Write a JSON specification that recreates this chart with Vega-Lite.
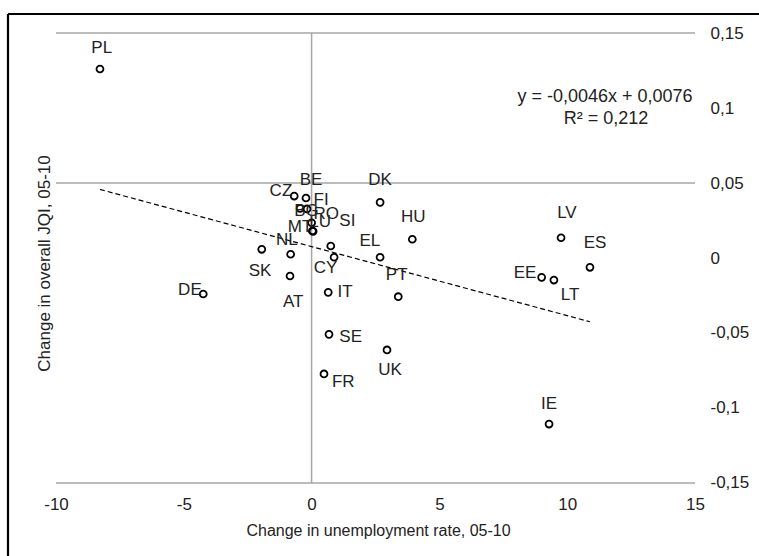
{
  "$schema": "https://vega.github.io/schema/vega-lite/v6.json",
  "autosize": {"type": "none"},
  "width": 751,
  "height": 542,
  "padding": {"left": 8, "top": 14, "right": 0, "bottom": 0},
  "background": "white",
  "config": {
    "view": {"stroke": "#000000", "strokeWidth": 2.2, "strokeDash": [751, 1293, 542, 0]},
    "font": "Liberation Sans",
    "axis": {"domain": false, "ticks": false, "grid": false, "labelFont": "Liberation Sans", "labelFontSize": 17, "labelColor": "#222222", "titleFont": "Liberation Sans", "titleFontSize": 16, "titleFontWeight": "normal", "titleColor": "#222222"}
  },
  "datasets": {
    "pts": [
      {"c": "PL", "x": -8.28, "y": 0.126, "lx": -8.21, "ly": 0.140},
      {"c": "DE", "x": -4.24, "y": -0.024, "lx": -4.76, "ly": -0.0213},
      {"c": "SK", "x": -1.95, "y": 0.0058, "lx": -2.02, "ly": -0.0085},
      {"c": "NL", "x": -0.82, "y": 0.0025, "lx": -0.97, "ly": 0.012},
      {"c": "AT", "x": -0.845, "y": -0.012, "lx": -0.72, "ly": -0.0291},
      {"c": "CZ", "x": -0.68, "y": 0.0413, "lx": -1.2, "ly": 0.0447},
      {"c": "BE", "x": -0.22, "y": 0.040, "lx": -0.02, "ly": 0.052},
      {"c": "MT", "x": -0.45, "y": 0.0331, "lx": -0.45, "ly": 0.0207},
      {"c": "BG", "x": -0.18, "y": 0.0327, "lx": -0.2, "ly": 0.0313},
      {"c": "FI", "x": 0.0, "y": 0.0235, "lx": 0.37, "ly": 0.0387},
      {"c": "LU", "x": 0.03, "y": 0.018, "lx": 0.33, "ly": 0.024},
      {"c": "RO", "x": 0.06, "y": 0.0178, "lx": 0.57, "ly": 0.0293},
      {"c": "SI", "x": 0.75, "y": 0.008, "lx": 1.4, "ly": 0.0247},
      {"c": "CY", "x": 0.88, "y": 0.0005, "lx": 0.55, "ly": -0.0065},
      {"c": "IT", "x": 0.65, "y": -0.0229, "lx": 1.31, "ly": -0.0225},
      {"c": "SE", "x": 0.68, "y": -0.0509, "lx": 1.53, "ly": -0.0525},
      {"c": "FR", "x": 0.485, "y": -0.0773, "lx": 1.24, "ly": -0.0825},
      {"c": "DK", "x": 2.68, "y": 0.0371, "lx": 2.68, "ly": 0.052},
      {"c": "HU", "x": 3.94, "y": 0.0125, "lx": 3.98, "ly": 0.0271},
      {"c": "EL", "x": 2.68, "y": 0.0005, "lx": 2.28, "ly": 0.0113},
      {"c": "PT", "x": 3.39, "y": -0.0258, "lx": 3.33, "ly": -0.0113},
      {"c": "UK", "x": 2.95, "y": -0.0613, "lx": 3.07, "ly": -0.0747},
      {"c": "LV", "x": 9.76, "y": 0.0135, "lx": 9.99, "ly": 0.030},
      {"c": "ES", "x": 10.89, "y": -0.0062, "lx": 11.09, "ly": 0.0098},
      {"c": "EE", "x": 9.0, "y": -0.0129, "lx": 8.35, "ly": -0.0098},
      {"c": "LT", "x": 9.48, "y": -0.0147, "lx": 10.11, "ly": -0.0247},
      {"c": "IE", "x": 9.29, "y": -0.1107, "lx": 9.29, "ly": -0.0973}
    ],
    "fit": [
      {"x": -8.28, "y": 0.0457},
      {"x": 10.89, "y": -0.0425}
    ],
    "hgrid": [
      {"x": -10, "x2": 15, "y": 0.15},
      {"x": -10, "x2": 15, "y": 0.05},
      {"x": -10, "x2": 15, "y": -0.15}
    ],
    "vgrid": [
      {"x": 0, "y": -0.15, "y2": 0.15}
    ],
    "eq": [
      {"ex": 11.48, "ey": 0.1073, "t": "y = -0,0046x + 0,0076"},
      {"ex": 11.52, "ey": 0.0927, "t": "R² = 0,212"}
    ]
  },
  "layer": [
    {
      "data": {"name": "hgrid"},
      "mark": {"type": "rule", "color": "#a6a6a6", "strokeWidth": 1.5},
      "encoding": {
        "x": {"field": "x", "type": "quantitative",
              "scale": {"domain": [-11.878, 17.504], "nice": false, "zero": false},
              "axis": {"orient": "bottom", "offset": -52, "labelPadding": 0, "labelBaseline": "middle", "values": [-10, -5, 0, 5, 10, 15], "labelExpr": "toString(datum.value)", "title": "Change in unemployment rate, 05-10", "titleX": 370, "titleY": 26, "titleBaseline": "middle", "titleAlign": "center", "labelFlush": false, "labelOverlap": false}},
        "x2": {"field": "x2"},
        "y": {"field": "y", "type": "quantitative",
              "scale": {"domain": [-0.198667, 0.162667], "nice": false, "zero": false},
              "axis": {"orient": "right", "offset": -49, "labelPadding": 0, "labelAlign": "left", "labelBaseline": "middle", "values": [-0.15, -0.1, -0.05, 0, 0.05, 0.1, 0.15], "labelExpr": "replace(toString(datum.value), '.', ',')", "title": "Change in overall JQI, 05-10", "titleFontSize": 17, "titleX": -666, "titleY": 249, "titleAngle": 270, "titleBaseline": "middle", "titleAlign": "center", "labelFlush": false, "labelOverlap": false}}
      }
    },
    {
      "data": {"name": "vgrid"},
      "mark": {"type": "rule", "color": "#a6a6a6", "strokeWidth": 1.5},
      "encoding": {
        "x": {"field": "x", "type": "quantitative", "scale": {"domain": [-11.878, 17.504], "nice": false, "zero": false}},
        "y": {"field": "y", "type": "quantitative", "scale": {"domain": [-0.198667, 0.162667], "nice": false, "zero": false}},
        "y2": {"field": "y2"}
      }
    },
    {
      "data": {"name": "fit"},
      "mark": {"type": "line", "color": "#000000", "strokeWidth": 1.2, "strokeDash": [5, 3]},
      "encoding": {
        "x": {"field": "x", "type": "quantitative", "scale": {"domain": [-11.878, 17.504], "nice": false, "zero": false}},
        "y": {"field": "y", "type": "quantitative", "scale": {"domain": [-0.198667, 0.162667], "nice": false, "zero": false}}
      }
    },
    {
      "data": {"name": "pts"},
      "mark": {"type": "point", "shape": "circle", "filled": false, "color": "#000000", "size": 48, "strokeWidth": 1.8, "opacity": 1},
      "encoding": {
        "x": {"field": "x", "type": "quantitative", "scale": {"domain": [-11.878, 17.504], "nice": false, "zero": false}},
        "y": {"field": "y", "type": "quantitative", "scale": {"domain": [-0.198667, 0.162667], "nice": false, "zero": false}}
      }
    },
    {
      "data": {"name": "pts"},
      "mark": {"type": "text", "font": "Liberation Sans", "fontSize": 17, "color": "#222222", "align": "center", "baseline": "middle"},
      "encoding": {
        "x": {"field": "lx", "type": "quantitative", "scale": {"domain": [-11.878, 17.504], "nice": false, "zero": false}},
        "y": {"field": "ly", "type": "quantitative", "scale": {"domain": [-0.198667, 0.162667], "nice": false, "zero": false}},
        "text": {"field": "c"}
      }
    },
    {
      "data": {"name": "eq"},
      "mark": {"type": "text", "font": "Liberation Sans", "fontSize": 18, "color": "#222222", "align": "center", "baseline": "middle"},
      "encoding": {
        "x": {"field": "ex", "type": "quantitative", "scale": {"domain": [-11.878, 17.504], "nice": false, "zero": false}},
        "y": {"field": "ey", "type": "quantitative", "scale": {"domain": [-0.198667, 0.162667], "nice": false, "zero": false}},
        "text": {"field": "t"}
      }
    }
  ]
}
